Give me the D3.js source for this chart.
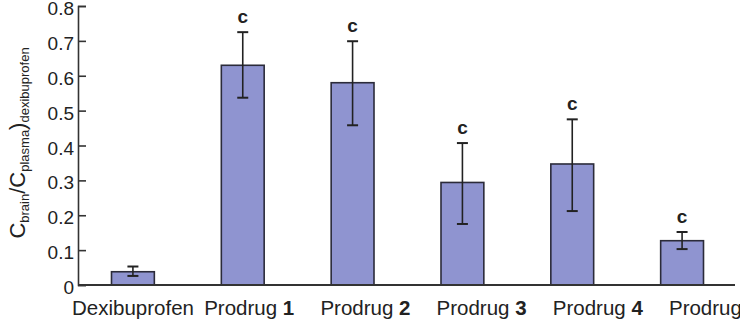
<!DOCTYPE html>
<html>
<head>
<meta charset="utf-8">
<script src="https://cdn.jsdelivr.net/npm/d3@7/dist/d3.min.js"></script>
<style>
  body { margin:0; background:#fff; }
  text { font-family: "Liberation Sans", Arial, sans-serif; }
</style>
</head>
<body>
<div id="chart-area"></div>
<script>
// data
var groups = ['Dexibuprofen','Prodrug 1','Prodrug 2','Prodrug 3','Prodrug 4','Prodrug 5'];
var means  = [0.038, 0.630, 0.580, 0.294, 0.347, 0.127];
var errHi  = [0.053, 0.725, 0.699, 0.407, 0.475, 0.152];
var errLo  = [0.026, 0.537, 0.458, 0.175, 0.212, 0.103];
var marks  = ['', 'c', 'c', 'c', 'c', 'c'];
var yTicks = [0, 0.1, 0.2, 0.3, 0.4, 0.5, 0.6, 0.7, 0.8];

var total_width = 740, total_height = 322;

var svg = d3.select('#chart-area').append('svg')
            .attr("width", total_width)
            .attr("height", total_height);

var data = groups.map(function(g, i){
  return {name: g, mean: means[i], hi: errHi[i], lo: errLo[i], mark: marks[i]};
});

var x = d3.scaleBand().domain(groups).range([78, 737])
          .paddingInner(0.61).paddingOuter(0.305);
// labels sit a bit wider apart than the bars
var xl = d3.scalePoint().domain(groups).range([133, 714]);
var y = d3.scaleLinear().domain([0, 0.8]).range([285, 6]);

// y axis, ticks pointing inward
var yAxis = d3.axisRight(y).tickValues(yTicks).tickSize(8)
              .tickFormat(function(d){ return d === 0 ? '0' : d3.format('.1f')(d); });
var ya = svg.append('g').attr("transform", "translate(78,0)").call(yAxis);
ya.select('.domain').attr("stroke", "#333").attr("stroke-width", 1.6);
ya.selectAll('.tick line').attr("stroke", "#333").attr("stroke-width", 1.6);
ya.selectAll('.tick text')
  .attr("x", -4).attr("dy", "0.45em")
  .attr("text-anchor", "end")
  .attr("font-size", 19)
  .attr("fill", "#222");

// bars
svg.selectAll('rect.bar').data(data).enter().append('rect')
   .attr("class", "bar")
   .attr("x", function(d){ return x(d.name); })
   .attr("y", function(d){ return y(d.mean); })
   .attr("width", x.bandwidth())
   .attr("height", function(d){ return y(0) - y(d.mean); })
   .attr("fill", "#8f94d0")
   .attr("stroke", "#2b2b3a")
   .attr("stroke-width", 1.6);

// error bars
var eb = svg.selectAll('g.err').data(data).enter().append('g').attr("class", "err")
            .attr("transform", function(d){ return "translate(" + (x(d.name) + x.bandwidth()/2) + ",0)"; });
eb.append('line').attr("x1", 0).attr("x2", 0)
  .attr("y1", function(d){ return y(d.hi); })
  .attr("y2", function(d){ return y(d.lo); })
  .attr("stroke", "#222").attr("stroke-width", 1.6);
eb.append('line').attr("x1", -5.5).attr("x2", 5.5)
  .attr("y1", function(d){ return y(d.hi); })
  .attr("y2", function(d){ return y(d.hi); })
  .attr("stroke", "#222").attr("stroke-width", 2);
eb.append('line').attr("x1", -5.5).attr("x2", 5.5)
  .attr("y1", function(d){ return y(d.lo); })
  .attr("y2", function(d){ return y(d.lo); })
  .attr("stroke", "#222").attr("stroke-width", 2);
eb.append('text')
  .attr("y", function(d){ return y(d.hi) - 9; })
  .attr("text-anchor", "middle")
  .attr("font-size", 19).attr("font-weight", "bold")
  .attr("fill", "#222")
  .text(function(d){ return d.mark; });

// x baseline
svg.append('line').attr("x1", 78).attr("x2", 735)
   .attr("y1", y(0)).attr("y2", y(0))
   .attr("stroke", "#333").attr("stroke-width", 1.8);

// category labels
var lab = svg.selectAll('text.xlab').data(data).enter().append('text')
             .attr("class", "xlab")
             .attr("x", function(d){ return xl(d.name); })
             .attr("y", 315)
             .attr("text-anchor", "middle")
             .attr("font-size", 20.5)
             .attr("fill", "#222");
lab.each(function(d){
  var parts = d.name.split(' ');
  var t = d3.select(this);
  t.append('tspan').text(parts[0]);
  if (parts[1]) t.append('tspan').attr("font-weight", "bold").text(' ' + parts[1]);
});

// y title
var yt = svg.append('text')
            .attr("transform", "translate(25,143) rotate(-90)")
            .attr("text-anchor", "middle")
            .attr("font-size", 22)
            .attr("fill", "#222");
yt.append('tspan').text('C');
yt.append('tspan').attr("font-size", 13).attr("dy", 4).text('brain');
yt.append('tspan').attr("dy", -4).text('/C');
yt.append('tspan').attr("font-size", 13).attr("dy", 4).text('plasma');
yt.append('tspan').attr("dy", -4).text(')');
yt.append('tspan').attr("font-size", 13).attr("dy", 4).text('dexibuprofen');
</script>
</body>
</html>
